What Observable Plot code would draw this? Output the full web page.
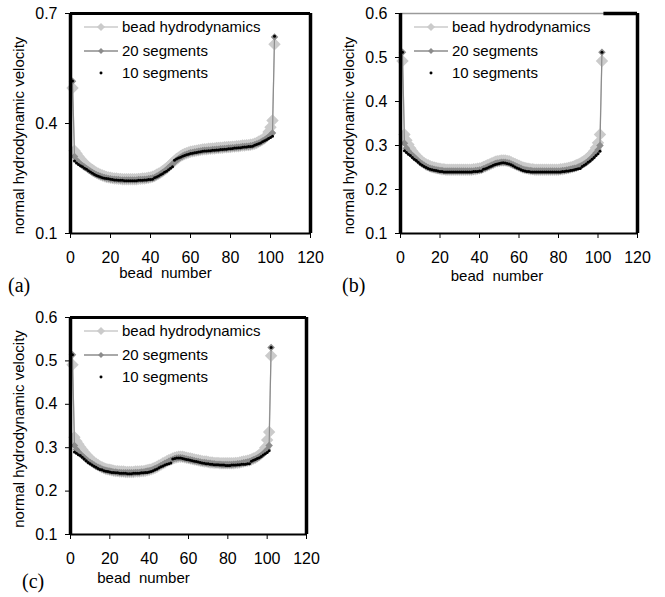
<!DOCTYPE html>
<html>
<head>
<meta charset="utf-8">
<script src="https://cdn.jsdelivr.net/npm/d3@7"></script>
<script src="https://cdn.jsdelivr.net/npm/@observablehq/plot@0.6"></script>
<style>
  html, body { margin: 0; padding: 0; background: #fff; }
  #chart { position: relative; width: 665px; height: 597px; overflow: hidden; font-family: "Liberation Sans", Arial, sans-serif; }
  #chart svg { position: absolute; }
  .tag { position: absolute; font-family: "Liberation Serif", "Times New Roman", serif; font-size: 20px; line-height: 1; color: #000; }
</style>
</head>
<body>
<div id="chart"></div>
<script>
// ---------- data ----------
const legendLabels = ["bead hydrodynamics", "20 segments", "10 segments"];
const xTicks = [0, 20, 40, 60, 80, 100, 120];
const yTicksA = [0.1, 0.4, 0.7];
const yTicksBC = [0.1, 0.2, 0.3, 0.4, 0.5, 0.6];
const xLabel = "bead\u00a0\u00a0number";
const yLabel = "normal hydrodynamic velocity";
const panelTags = ["(a)", "(b)", "(c)"];

// panel (a), beads 1..102
const aBead = [.497,.326,.318,.310,.303,.297,.291,.286,.281,.277,
  .273,.269,.266,.263,.260,.258,.256,.254,.253,.252,
  .251,.250,.250,.249,.249,.248,.248,.248,.248,.248,
  .248,.248,.248,.249,.249,.250,.250,.251,.252,.253,
  .255,.257,.260,.263,.266,.270,.274,.278,.283,.288,
  .293,.298,.303,.307,.311,.314,.317,.319,.321,.323,
  .324,.325,.326,.327,.328,.329,.330,.330,.331,.331,
  .332,.332,.333,.333,.334,.334,.335,.335,.336,.336,
  .337,.337,.338,.338,.339,.340,.340,.341,.341,.342,
  .343,.345,.347,.350,.353,.356,.360,.366,.377,.390,
  .408,.616];
const aSeg20 = [.515,.310,.300,.294,.289,.285,.281,.277,.273,.270,
  .266,.263,.260,.258,.256,.254,.253,.251,.250,.249,
  .248,.248,.247,.247,.246,.246,.246,.246,.246,.246,
  .246,.246,.246,.247,.247,.247,.248,.248,.249,.250,
  .251,.253,.256,.259,.262,.266,.270,.274,.279,.284,
  .289,.295,.300,.304,.308,.311,.314,.316,.318,.320,
  .321,.322,.323,.324,.325,.326,.327,.327,.328,.328,
  .329,.329,.330,.330,.331,.331,.332,.332,.333,.333,
  .334,.334,.335,.335,.336,.337,.337,.338,.338,.339,
  .340,.342,.344,.346,.349,.352,.355,.359,.363,.368,
  .374,.636];
const aSeg10 = [.516,.298,.292,.288,.285,.282,.278,.275,.271,.268,
  .264,.261,.258,.256,.254,.252,.251,.250,.249,.248,
  .247,.246,.246,.245,.245,.245,.244,.244,.244,.244,
  .244,.244,.244,.245,.245,.245,.246,.246,.247,.247,
  .248,.252,.254,.257,.260,.263,.267,.270,.274,.278,
  .282,.300,.303,.306,.308,.311,.313,.315,.316,.318,
  .319,.320,.321,.322,.323,.324,.325,.325,.326,.326,
  .327,.327,.328,.328,.329,.329,.330,.330,.331,.331,
  .332,.333,.333,.334,.334,.335,.336,.336,.337,.337,
  .338,.341,.343,.345,.347,.350,.353,.356,.359,.362,
  .365,.638];

// panel (b)
const bBead = [.492,.325,.312,.302,.294,.287,.281,.276,.271,.267,
  .263,.260,.257,.255,.253,.251,.250,.249,.248,.247,
  .246,.246,.245,.245,.245,.245,.245,.245,.245,.245,
  .245,.245,.245,.245,.245,.245,.246,.246,.247,.248,
  .249,.251,.253,.255,.257,.259,.261,.263,.264,.265,
  .266,.266,.266,.265,.264,.262,.260,.258,.256,.254,
  .252,.250,.249,.248,.247,.246,.246,.245,.245,.245,
  .245,.245,.245,.245,.245,.245,.245,.245,.245,.245,
  .246,.246,.247,.248,.249,.250,.251,.253,.255,.257,
  .259,.262,.265,.268,.272,.276,.281,.287,.295,.306,
  .325,.492];
const bSeg20 = [.512,.305,.294,.287,.281,.277,.273,.269,.265,.261,
  .258,.255,.252,.250,.248,.247,.246,.245,.244,.243,
  .243,.242,.242,.242,.242,.242,.242,.242,.242,.242,
  .242,.242,.242,.242,.242,.242,.242,.243,.243,.244,
  .245,.247,.249,.251,.253,.255,.257,.259,.260,.261,
  .262,.262,.262,.261,.260,.258,.256,.254,.252,.250,
  .248,.246,.245,.244,.243,.243,.242,.242,.242,.242,
  .242,.242,.242,.242,.242,.242,.242,.242,.242,.242,
  .242,.243,.243,.244,.245,.246,.247,.248,.249,.251,
  .253,.255,.258,.261,.264,.268,.272,.277,.283,.290,
  .300,.512];
const bSeg10 = [.512,.288,.284,.280,.277,.273,.269,.266,.262,.258,
  .255,.252,.250,.248,.246,.245,.244,.243,.242,.241,
  .241,.240,.240,.240,.240,.240,.240,.240,.240,.240,
  .240,.240,.240,.240,.240,.240,.241,.241,.241,.242,
  .242,.246,.247,.249,.251,.253,.255,.257,.258,.259,
  .260,.261,.260,.259,.258,.256,.254,.251,.249,.247,
  .245,.243,.242,.241,.241,.240,.240,.240,.240,.240,
  .240,.240,.240,.240,.240,.240,.240,.240,.240,.240,
  .240,.241,.241,.242,.242,.243,.244,.245,.246,.247,
  .248,.252,.255,.258,.262,.265,.269,.273,.277,.281,
  .287,.512];

// panel (c)
const cBead = [.491,.324,.315,.308,.301,.295,.289,.284,.279,.274,
  .270,.266,.263,.260,.257,.255,.253,.251,.250,.249,
  .248,.247,.246,.246,.245,.245,.245,.244,.244,.244,
  .244,.244,.245,.245,.245,.246,.246,.247,.248,.249,
  .250,.252,.254,.256,.259,.261,.264,.266,.269,.271,
  .273,.275,.277,.278,.279,.279,.279,.278,.277,.276,
  .275,.274,.273,.272,.271,.270,.269,.268,.268,.267,
  .266,.266,.265,.265,.265,.264,.264,.264,.264,.264,
  .264,.264,.264,.265,.265,.266,.267,.268,.269,.270,
  .271,.273,.275,.277,.280,.283,.287,.292,.300,.318,
  .336,.512];
const cSeg20 = [.514,.305,.296,.290,.285,.281,.277,.273,.269,.266,
  .263,.260,.257,.255,.253,.251,.249,.248,.247,.246,
  .245,.244,.244,.243,.243,.242,.242,.242,.242,.242,
  .242,.242,.243,.243,.243,.244,.244,.245,.246,.247,
  .248,.250,.252,.254,.256,.259,.261,.264,.266,.269,
  .271,.273,.275,.276,.277,.277,.276,.275,.274,.273,
  .272,.271,.270,.269,.268,.267,.266,.266,.265,.264,
  .264,.263,.263,.262,.262,.262,.261,.261,.261,.261,
  .261,.261,.262,.262,.263,.263,.264,.265,.266,.267,
  .268,.270,.272,.274,.276,.279,.282,.286,.290,.295,
  .305,.531];
const cSeg10 = [.514,.290,.287,.284,.282,.278,.274,.270,.266,.263,
  .260,.257,.255,.252,.250,.249,.247,.246,.245,.244,
  .243,.243,.242,.242,.241,.241,.241,.241,.240,.240,
  .240,.241,.241,.241,.241,.242,.242,.243,.243,.244,
  .245,.247,.249,.251,.254,.256,.258,.260,.262,.263,
  .265,.274,.275,.276,.276,.276,.275,.274,.273,.272,
  .271,.270,.269,.268,.267,.266,.265,.264,.263,.263,
  .262,.262,.261,.261,.261,.260,.260,.260,.259,.259,
  .259,.260,.260,.260,.261,.261,.262,.262,.262,.263,
  .263,.269,.271,.273,.275,.277,.280,.283,.286,.289,
  .293,.531];

// ---------- drawing ----------
const LIGHT = "#cbcbcb", DARK = "#8c8c8c";
const toRows = arr => arr.map((v, i) => ({bead: i + 1, v}));

function panel(cfg) {
  const {bead, seg20, seg10, yDomain, yTicks, width, height, mt, mb, ml, mr, xlDx, xlDy, ylDy, topGrey} = cfg;
  const B = toRows(bead), S20 = toRows(seg20), S10 = toRows(seg10);
  const xd = [0, 120];
  const topMarks = topGrey
    ? [Plot.ruleY([yDomain[1]], {x1: xd[0], x2: xd[1], stroke: "#9a9a9a", strokeWidth: 1.5}),
       Plot.ruleY([yDomain[1]], {x1: topGrey, x2: xd[1], stroke: "#000", strokeWidth: 3.5})]
    : [Plot.ruleY([yDomain[1]], {stroke: "#000", strokeWidth: 3})];
  const svg = Plot.plot({
    width, height,
    marginTop: mt, marginBottom: mb, marginLeft: ml, marginRight: mr,
    style: {fontFamily: "'Liberation Sans', Arial, sans-serif", fontSize: "16px", color: "#000", background: "transparent", overflow: "visible"},
    x: {domain: xd, label: null},
    y: {domain: yDomain, label: null},
    marks: [
      Plot.line(B, {x: "bead", y: "v", stroke: LIGHT, strokeWidth: 1.3}),
      Plot.dot(B, {x: "bead", y: "v", symbol: "diamond2", r: 5.6, fill: LIGHT, stroke: null}),
      Plot.line(S20, {x: "bead", y: "v", stroke: DARK, strokeWidth: 1.2}),
      Plot.dot(S20, {x: "bead", y: "v", symbol: "diamond2", r: 3.4, fill: DARK, stroke: null}),
      Plot.dot(S10, {x: "bead", y: "v", r: 1.5, fill: "#000", stroke: null}),
      Plot.ruleY([yDomain[0]], {stroke: "#000", strokeWidth: 2}),
      ...topMarks,
      Plot.ruleX([xd[0]], {stroke: "#000", strokeWidth: 3.5}),
      Plot.ruleX([xd[1]], {stroke: "#000", strokeWidth: 3.5}),
      Plot.axisX({ticks: xTicks, tickSize: 5, tickPadding: 13, label: null}),
      Plot.axisY({ticks: yTicks, tickFormat: d3.format(".1f"), tickSize: 5, tickPadding: 8, label: null}),
      Plot.text([xLabel], {frameAnchor: "bottom", dx: xlDx, dy: xlDy, textAnchor: "middle", lineAnchor: "middle", fontSize: 15, letterSpacing: "0.5px"}),
      Plot.text([yLabel], {frameAnchor: "left", rotate: -90, dx: -51, dy: ylDy, textAnchor: "middle", lineAnchor: "middle", fontSize: 15})
    ]
  });
  // legend inside the frame, top-left
  const g = d3.select(svg).append("g")
    .attr("font-family", "'Liberation Sans', Arial, sans-serif")
    .attr("font-size", 15)
    .attr("text-anchor", "start");
  const rowsY = [14, 38, 60];
  const lx0 = ml + 14, lx1 = ml + 48, lxc = ml + 31, tx = ml + 52;
  const styles = [
    {line: LIGHT, sym: d3.symbol(d3.symbolDiamond2, 42)(), fill: LIGHT},
    {line: DARK, sym: d3.symbol(d3.symbolDiamond2, 22)(), fill: DARK},
    {line: null, sym: d3.symbol(d3.symbolCircle, 7)(), fill: "#000"}
  ];
  legendLabels.forEach((lab, i) => {
    const y = mt + rowsY[i];
    const s = styles[i];
    if (s.line) g.append("line").attr("x1", lx0).attr("x2", lx1).attr("y1", y).attr("y2", y).attr("stroke", s.line).attr("stroke-width", 1.3);
    g.append("path").attr("d", s.sym).attr("transform", `translate(${lxc},${y})`).attr("fill", s.fill);
    g.append("text").attr("x", tx).attr("y", y).attr("dy", "0.35em").attr("fill", "#000").attr("text-anchor", "start").text(lab);
  });
  return svg;
}

const chart = document.getElementById("chart");
const place = (svg, left, top) => { svg.style.left = left + "px"; svg.style.top = top + "px"; chart.appendChild(svg); };

place(panel({bead: aBead, seg20: aSeg20, seg10: aSeg10, yDomain: [0.1, 0.7], yTicks: yTicksA,
  width: 330, height: 290, mt: 13, mb: 57, ml: 70, mr: 20, xlDx: -25, xlDy: 40, ylDy: 12}), 0, 0);
place(panel({bead: bBead, seg20: bSeg20, seg10: bSeg10, yDomain: [0.1, 0.6], yTicks: yTicksBC,
  width: 335, height: 290, mt: 13, mb: 57, ml: 70, mr: 28, xlDx: -22, xlDy: 43, ylDy: 12, topGrey: 103}), 330, 0);
place(panel({bead: cBead, seg20: cSeg20, seg10: cSeg10, yDomain: [0.1, 0.6], yTicks: yTicksBC,
  width: 330, height: 307, mt: 27, mb: 63, ml: 70, mr: 24, xlDx: -45, xlDy: 44, ylDy: 3}), 0, 290);

const tagPos = [[8, 275], [342, 275], [22, 571]];
panelTags.forEach((t, i) => {
  const d = document.createElement("div");
  d.className = "tag";
  d.textContent = t;
  d.style.left = tagPos[i][0] + "px";
  d.style.top = tagPos[i][1] + "px";
  chart.appendChild(d);
});
</script>
</body>
</html>
